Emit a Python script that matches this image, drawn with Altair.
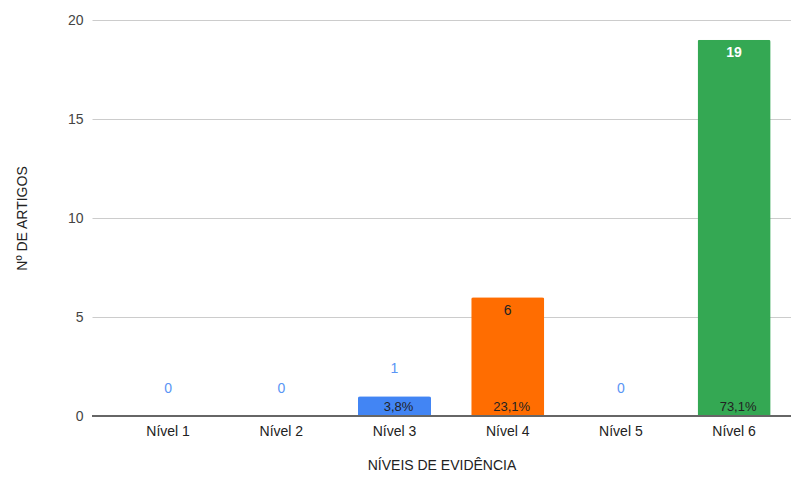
import altair as alt
import pandas as pd

levels = ["Nível 1", "Nível 2", "Nível 3", "Nível 4", "Nível 5", "Nível 6"]
counts = [0, 0, 1, 6, 0, 19]
palette = ["#4285F4", "#4285F4", "#4285F4", "#FF6D01", "#4285F4", "#34A853"]

total = sum(counts)
pct = [(f"{c / total * 100:.1f}%".replace(".", ",") if c > 0 else "") for c in counts]

df = pd.DataFrame({"level": levels, "count": counts, "pct": pct})

FONT = "Arial"

x = alt.X(
    "level:N",
    sort=levels,
    scale=alt.Scale(paddingInner=0.355, paddingOuter=0.265, align=0.66),
    axis=alt.Axis(
        title="NÍVEIS DE EVIDÊNCIA",
        labelAngle=0,
        ticks=False,
        grid=False,
        domain=False,
        labelPadding=8,
        titlePadding=20,
        labelColor="#222222",
        titleColor="#222222",
        labelFontSize=14,
        titleFontSize=14,
        titleFontWeight="normal",
        labelFont=FONT,
        titleFont=FONT,
    ),
)

y_scale = alt.Scale(domain=[0, 20])
y_axis = alt.Axis(
    title="Nº DE ARTIGOS",
    values=[0, 5, 10, 15, 20],
    domain=False,
    ticks=False,
    gridColor="#cccccc",
    labelPadding=9,
    titlePadding=38,
    labelColor="#444444",
    titleColor="#222222",
    labelFontSize=14,
    titleFontSize=14,
    titleFontWeight="normal",
    labelFont=FONT,
    titleFont=FONT,
)
y = alt.Y("count:Q", scale=y_scale, axis=y_axis)
y_zero = alt.Y("zero:Q", scale=y_scale, axis=y_axis)

base = alt.Chart(df)

bars = base.mark_bar(cornerRadiusTopLeft=2, cornerRadiusTopRight=2).encode(
    x=x,
    y=y,
    color=alt.Color("level:N", scale=alt.Scale(domain=levels, range=palette), legend=None),
)

baseline = alt.Chart(pd.DataFrame({"zero": [0]})).mark_rule(
    color="#666666", strokeWidth=2
).encode(y=y_zero)

outside = base.transform_filter("datum.count <= 1").mark_text(
    dy=-27, fontSize=14, font=FONT, color="#5a95f5"
).encode(x=x, y=y, text="count:Q")

inside_dark = base.transform_filter("datum.count > 1 && datum.count < 10").mark_text(
    dy=14, fontSize=14, font=FONT, color="#222222"
).encode(x=x, y=y, text="count:Q")

inside_white = base.transform_filter("datum.count >= 10").mark_text(
    dy=13, fontSize=14, font=FONT, color="#ffffff", fontWeight="bold"
).encode(x=x, y=y, text="count:Q")

pct_text = base.transform_filter("datum.count > 0").transform_calculate(zero="0").mark_text(
    dy=-9, dx=4, fontSize=13, font=FONT, color="#222222"
).encode(x=x, y=y_zero, text="pct:N")

chart = (
    alt.layer(bars, baseline, outside, inside_dark, inside_white, pct_text)
    .properties(
        width=699,
        height=396,
        background="#ffffff",
        autosize=alt.AutoSizeParams(type="none"),
        padding={"left": 84, "top": 12, "right": 0, "bottom": 56},
    )
    .configure_view(stroke="transparent", strokeWidth=0)
    .configure_axis(domain=False, ticks=False)
)

chart.save("out.html", embed_options={"renderer": "svg", "actions": False})
